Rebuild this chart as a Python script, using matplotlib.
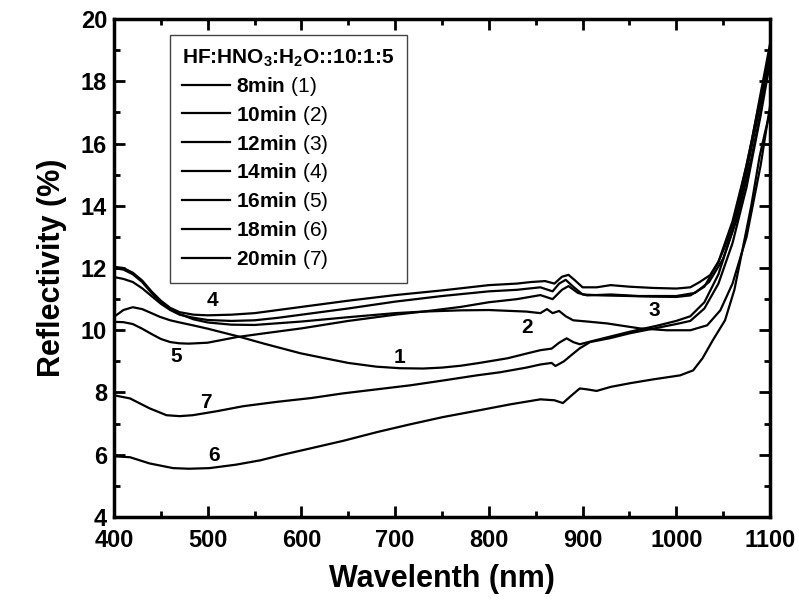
#reflectivity spectra of etched silicon for different etching times
import matplotlib
matplotlib.use("Agg")
from matplotlib import pyplot as plt
from matplotlib.ticker import MultipleLocator

plt.rcParams['font.family'] = ['Liberation Sans', 'DejaVu Sans']
plt.rcParams['mathtext.fontset'] = 'custom'
plt.rcParams['mathtext.rm'] = 'Liberation Sans'
plt.rcParams['mathtext.bf'] = 'Liberation Sans:bold'

#curve 1 : 8min
wl_1 = [400, 410, 420, 430, 440, 449, 460, 470, 484, 500, 534, 560, 599, 625, 650, 680, 705, 730, 750, 770,
        790, 820, 840, 855, 867, 875, 883, 890, 897, 910, 930, 950, 980, 1000, 1015, 1030, 1045, 1060, 1075, 1090, 1100]
r_1 = [10.43, 10.65, 10.74, 10.68, 10.55, 10.43, 10.32, 10.25, 10.16, 10.05, 9.79, 9.57, 9.26, 9.1, 8.95, 8.83, 8.78, 8.77, 8.8, 8.86,
       8.95, 9.1, 9.25, 9.36, 9.41, 9.6, 9.74, 9.62, 9.55, 9.65, 9.8, 9.95, 10.15, 10.3, 10.45, 10.9, 11.8, 13.2, 15.1, 17.3, 18.9]

#curve 2 : 10min
wl_2 = [400, 410, 420, 430, 440, 450, 460, 470, 485, 500, 525, 550, 600, 650, 700, 730, 770, 800, 840, 855,
        862, 868, 875, 882, 890, 905, 926, 961, 990, 1015, 1033, 1047, 1060, 1075, 1090, 1100]
r_2 = [12.0, 11.95, 11.8, 11.55, 11.2, 10.9, 10.68, 10.52, 10.35, 10.25, 10.18, 10.17, 10.28, 10.42, 10.55, 10.6, 10.64, 10.65, 10.6, 10.55,
       10.68, 10.55, 10.62, 10.45, 10.32, 10.28, 10.22, 10.06, 10.0, 10.0, 10.16, 10.64, 11.5, 13.0, 15.3, 17.2]

#curve 3 : 12min
wl_3 = [400, 410, 420, 430, 440, 450, 460, 470, 485, 500, 525, 550, 575, 600, 650, 700, 750, 800, 830, 855,
        868, 875, 882, 890, 900, 920, 950, 975, 1000, 1015, 1030, 1045, 1060, 1075, 1090, 1100]
r_3 = [11.71, 11.65, 11.55, 11.35, 11.1, 10.85, 10.65, 10.5, 10.4, 10.33, 10.3, 10.32, 10.4, 10.5, 10.7, 10.92, 11.1, 11.25, 11.3, 11.38,
       11.25, 11.5, 11.62, 11.4, 11.15, 11.12, 11.1, 11.08, 11.07, 11.12, 11.4, 12.2, 13.5, 15.3, 17.5, 19.0]

#curve 4 : 14min
wl_4 = [400, 410, 420, 430, 440, 450, 460, 470, 485, 500, 525, 550, 575, 600, 650, 700, 750, 800, 830, 845,
        860, 870, 878, 885, 892, 900, 915, 930, 950, 975, 1000, 1015, 1025, 1036, 1045, 1054, 1063, 1071, 1080, 1089, 1095, 1100]
r_4 = [12.04, 12.0, 11.85, 11.6, 11.25, 10.95, 10.72, 10.58, 10.5, 10.48, 10.5, 10.55, 10.65, 10.75, 10.95, 11.13, 11.28, 11.45, 11.5, 11.55,
       11.58, 11.5, 11.72, 11.78, 11.6, 11.38, 11.38, 11.45, 11.4, 11.36, 11.34, 11.38, 11.55, 11.77, 12.2, 12.84, 13.7, 14.77, 16.0, 17.45, 18.4, 19.2]

#curve 5 : 16min
wl_5 = [400, 410, 420, 430, 440, 450, 460, 470, 480, 500, 531, 560, 600, 650, 700, 730, 770, 800, 830, 855,
        868, 878, 885, 895, 905, 930, 960, 1000, 1020, 1035, 1050, 1065, 1080, 1090, 1100]
r_5 = [10.27, 10.26, 10.2, 10.05, 9.88, 9.72, 9.62, 9.58, 9.57, 9.6, 9.78, 9.9, 10.06, 10.3, 10.5, 10.6, 10.75, 10.9, 11.0, 11.13,
       11.0, 11.3, 11.42, 11.2, 11.12, 11.15, 11.1, 11.1, 11.2, 11.55, 12.3, 13.6, 15.5, 17.0, 19.0]

#curve 6 : 18min
wl_6 = [400, 417, 438, 463, 480, 502, 530, 556, 580, 609, 645, 681, 715, 751, 790, 823, 855, 870, 879, 888,
        897, 905, 915, 930, 951, 975, 1004, 1018, 1028, 1039, 1052, 1062, 1071, 1080, 1089, 1095, 1100]
r_6 = [5.95, 5.92, 5.72, 5.57, 5.55, 5.57, 5.68, 5.82, 6.0, 6.2, 6.45, 6.73, 6.97, 7.21, 7.43, 7.62, 7.78, 7.75, 7.66, 7.9,
       8.13, 8.1, 8.05, 8.18, 8.3, 8.42, 8.55, 8.71, 9.1, 9.68, 10.32, 11.3, 12.64, 14.0, 15.6, 16.4, 17.0]

#curve 7 : 20min
wl_7 = [400, 417, 438, 456, 470, 484, 510, 538, 574, 610, 644, 680, 716, 750, 787, 812, 840, 855, 867, 871,
        880, 888, 897, 908, 930, 950, 980, 1000, 1015, 1030, 1045, 1060, 1075, 1090, 1100]
r_7 = [7.91, 7.81, 7.49, 7.27, 7.24, 7.27, 7.4, 7.56, 7.7, 7.82, 7.97, 8.1, 8.23, 8.38, 8.55, 8.65, 8.8, 8.9, 8.95, 8.85,
       9.0, 9.2, 9.42, 9.62, 9.75, 9.9, 10.08, 10.2, 10.3, 10.7, 11.5, 12.8, 14.6, 16.9, 18.6]

legend_labels = [r'$\mathbf{8min}$ (1)', r'$\mathbf{10min}$ (2)', r'$\mathbf{12min}$ (3)', r'$\mathbf{14min}$ (4)',
                 r'$\mathbf{16min}$ (5)', r'$\mathbf{18min}$ (6)', r'$\mathbf{20min}$ (7)']

#curve number labels placed next to the curves
tag_text = ['1', '2', '3', '4', '5', '6', '7']
tag_x = [705, 841, 977, 505, 466, 507, 498]
tag_y = [9.13, 10.1, 10.64, 10.97, 9.16, 5.98, 7.68]

fig = plt.figure(figsize=(7.99, 6.05), dpi=100)
ax = fig.add_axes([0.1427, 0.1455, 0.821, 0.823])

curves = [(wl_1, r_1), (wl_2, r_2), (wl_3, r_3), (wl_4, r_4), (wl_5, r_5), (wl_6, r_6), (wl_7, r_7)]
for (wl, r), lab in zip(curves, legend_labels):
    ax.plot(wl, r, color='black', lw=1.6, label=lab)

for t, x, y in zip(tag_text, tag_x, tag_y):
    ax.text(x, y, t, fontsize=15, fontweight='bold', ha='center', va='center')

ax.set_xlim(400, 1100)
ax.set_ylim(4, 20)
ax.xaxis.set_major_locator(MultipleLocator(100))
ax.xaxis.set_minor_locator(MultipleLocator(50))
ax.yaxis.set_major_locator(MultipleLocator(2))
ax.yaxis.set_minor_locator(MultipleLocator(1))
ax.tick_params(which='both', direction='in', top=True, right=True, width=2)
ax.tick_params(which='major', length=8, labelsize=17)
ax.tick_params(axis='x', which='major', pad=9)
ax.tick_params(axis='y', which='major', pad=5)
ax.tick_params(which='minor', length=4)
for lbl in ax.get_xticklabels() + ax.get_yticklabels():
    lbl.set_fontweight('bold')
for sp in ax.spines.values():
    sp.set_linewidth(2.5)

ax.set_xlabel('Wavelenth (nm)', fontsize=22, fontweight='bold', labelpad=8)
ax.set_ylabel('Reflectivity (%)', fontsize=22, fontweight='bold', labelpad=10)

leg = ax.legend(loc='upper left', bbox_to_anchor=(0.085, 0.968), fontsize=15,
                title=r'HF:HNO$_\mathbf{3}$:H$_\mathbf{2}$O::10:1:5',
                title_fontproperties={'weight': 'bold', 'size': 15},
                alignment='left', frameon=True, fancybox=False, framealpha=1,
                edgecolor='#444444', handlelength=2.3, handletextpad=0.3,
                labelspacing=0.28, borderpad=0.6, borderaxespad=0)
leg.get_frame().set_linewidth(1.0)

fig.savefig('out.png', dpi=100)
